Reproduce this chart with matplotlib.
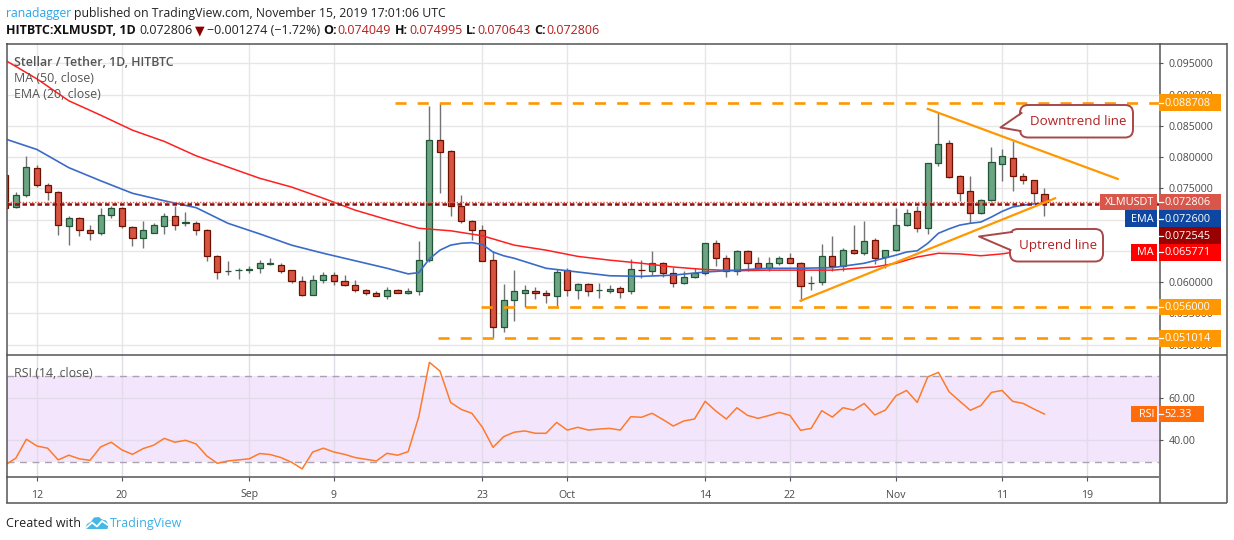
import matplotlib
matplotlib.use("Agg")
import matplotlib.pyplot as plt
from matplotlib.patches import FancyBboxPatch, Polygon, Rectangle
import numpy as np
import pandas as pd

W, H = 1234, 540
FAM = ['Open Sans', 'DejaVu Sans']

# --- data (XLM/USDT daily, HitBTC) ---
dates = pd.date_range('2019-08-09', '2019-11-15', freq='D')

opens = [0.0771, 0.0720, 0.0739, 0.0782, 0.0755, 0.0744, 0.0690, 0.0702, 0.0683, 0.0678,
         0.0708, 0.0718, 0.0688, 0.0670, 0.0679, 0.0690, 0.0705, 0.0695, 0.0695, 0.0683,
         0.0641, 0.0617, 0.0619, 0.0620, 0.0622, 0.0629, 0.0628, 0.0619, 0.0601, 0.0580,
         0.0604, 0.0611, 0.0602, 0.0595, 0.0588, 0.0583, 0.0578, 0.0588, 0.0583, 0.0586,
         0.0635, 0.0828, 0.0810, 0.0721, 0.0697, 0.0683, 0.0635, 0.0528, 0.0572, 0.0583,
         0.0586, 0.0583, 0.0578, 0.0619, 0.0588, 0.0597, 0.0587, 0.0586, 0.0591, 0.0585,
         0.0620, 0.0617, 0.0630, 0.0614, 0.0598, 0.0608, 0.0614, 0.0662, 0.0639, 0.0617,
         0.0650, 0.0630, 0.0623, 0.0631, 0.0639, 0.0631, 0.0598, 0.0600, 0.0642, 0.0626,
         0.0652, 0.0646, 0.0667, 0.0640, 0.0651, 0.0691, 0.0713, 0.0686, 0.0790, 0.0823,
         0.0770, 0.0745, 0.0710, 0.0731, 0.0789, 0.0799, 0.0770, 0.0763, 0.074049]
highs = [0.0776, 0.0744, 0.0802, 0.0787, 0.0758, 0.0746, 0.0706, 0.0704, 0.0691, 0.0718,
         0.0721, 0.0720, 0.0690, 0.0697, 0.0695, 0.0710, 0.0721, 0.0712, 0.0697, 0.0685,
         0.0643, 0.0633, 0.0623, 0.0625, 0.0635, 0.0638, 0.0630, 0.0620, 0.0610, 0.0611,
         0.0616, 0.0616, 0.0611, 0.0603, 0.0589, 0.0585, 0.0592, 0.0589, 0.0591, 0.0666,
         0.0882, 0.0887, 0.0811, 0.0739, 0.0700, 0.0691, 0.0649, 0.0597, 0.0619, 0.0595,
         0.0592, 0.0587, 0.0621, 0.0622, 0.0598, 0.0598, 0.0599, 0.0595, 0.0594, 0.0637,
         0.0635, 0.0650, 0.0632, 0.0624, 0.0618, 0.0623, 0.0663, 0.0667, 0.0644, 0.0651,
         0.0651, 0.0640, 0.0640, 0.0642, 0.0647, 0.0632, 0.0609, 0.0661, 0.0674, 0.0655,
         0.0692, 0.0698, 0.0670, 0.0652, 0.0719, 0.0717, 0.0721, 0.0791, 0.0871, 0.0828,
         0.0771, 0.0769, 0.0733, 0.0816, 0.0813, 0.0826, 0.0775, 0.0764, 0.074995]
lows = [0.0712, 0.0718, 0.0736, 0.0752, 0.0731, 0.0676, 0.0660, 0.0674, 0.0668, 0.0676,
        0.0703, 0.0687, 0.0657, 0.0655, 0.0678, 0.0677, 0.0683, 0.0690, 0.0676, 0.0634,
        0.0605, 0.0611, 0.0605, 0.0615, 0.0615, 0.0627, 0.0615, 0.0599, 0.0578, 0.0579,
        0.0598, 0.0595, 0.0594, 0.0584, 0.0579, 0.0577, 0.0573, 0.0582, 0.0581, 0.0579,
        0.0632, 0.0743, 0.0706, 0.0695, 0.0668, 0.0633, 0.0510, 0.0520, 0.0538, 0.0560,
        0.0573, 0.0566, 0.0562, 0.0578, 0.0573, 0.0578, 0.0575, 0.0583, 0.0574, 0.0581,
        0.0607, 0.0611, 0.0608, 0.0592, 0.0597, 0.0607, 0.0611, 0.0625, 0.0608, 0.0611,
        0.0618, 0.0619, 0.0617, 0.0627, 0.0630, 0.0569, 0.0587, 0.0595, 0.0617, 0.0618,
        0.0645, 0.0644, 0.0629, 0.0622, 0.0649, 0.0690, 0.0680, 0.0677, 0.0786, 0.0767,
        0.0729, 0.0695, 0.0709, 0.0730, 0.0762, 0.0746, 0.0757, 0.0727, 0.070643]
closes = [0.0718, 0.0739, 0.0784, 0.0755, 0.0744, 0.0692, 0.0702, 0.0683, 0.0678, 0.0707,
          0.0718, 0.0689, 0.0670, 0.0683, 0.0691, 0.0705, 0.0692, 0.0696, 0.0684, 0.0641,
          0.0616, 0.0618, 0.0620, 0.0621, 0.0630, 0.0630, 0.0617, 0.0601, 0.0580, 0.0604,
          0.0611, 0.0601, 0.0595, 0.0587, 0.0583, 0.0578, 0.0588, 0.0583, 0.0586, 0.0636,
          0.0828, 0.0808, 0.0721, 0.0697, 0.0684, 0.0634, 0.0528, 0.0571, 0.0585, 0.0587,
          0.0583, 0.0580, 0.0616, 0.0588, 0.0597, 0.0586, 0.0588, 0.0589, 0.0584, 0.0621,
          0.0619, 0.0630, 0.0614, 0.0598, 0.0608, 0.0614, 0.0662, 0.0639, 0.0617, 0.0650,
          0.0630, 0.0623, 0.0631, 0.0639, 0.0631, 0.0594, 0.0599, 0.0642, 0.0626, 0.0652,
          0.0646, 0.0665, 0.0639, 0.0651, 0.0691, 0.0711, 0.0686, 0.0790, 0.0821, 0.0768,
          0.0743, 0.0711, 0.0731, 0.0792, 0.0801, 0.0770, 0.0763, 0.0742, 0.072806]

# EMA(20) and MA(50) read at these day numbers (0 = Aug 9)
ema_days = [0, 3, 6, 9, 12, 15, 18, 21, 24, 27, 30, 33, 36, 38, 39, 40, 41, 42, 43, 44,
            45, 46, 47, 48, 51, 54, 57, 60, 63, 66, 69, 72, 75, 78, 81, 84, 85, 86, 87, 88,
            89, 90, 91, 92, 93, 94, 95, 96, 97, 98]
ema_vals = [0.0829, 0.0812, 0.0783, 0.0762, 0.0742, 0.0730, 0.0719, 0.0694, 0.0677, 0.0659,
            0.0646, 0.0634, 0.0622, 0.0613, 0.0615, 0.0637, 0.0651, 0.0659, 0.0662, 0.0663,
            0.0660, 0.0648, 0.0642, 0.0638, 0.0622, 0.0616, 0.0610, 0.0609, 0.0611, 0.0616,
            0.0619, 0.0622, 0.0622, 0.0623, 0.0630, 0.0643, 0.0648, 0.0650, 0.0662, 0.0678,
            0.0685, 0.0691, 0.0694, 0.0696, 0.0704, 0.0713, 0.0720, 0.0723, 0.0725, 0.0726]
ma_days = [0, 3, 6, 9, 12, 15, 18, 21, 24, 27, 30, 33, 36, 39, 42, 45, 48, 51, 54, 57,
           60, 63, 66, 69, 72, 75, 78, 81, 82, 84, 86, 88, 90, 92, 94, 96, 98]
ma_vals = [0.0955, 0.0925, 0.0890, 0.0867, 0.0843, 0.0825, 0.0802, 0.0784, 0.0766, 0.0752,
           0.0734, 0.0715, 0.0700, 0.0686, 0.0682, 0.0674, 0.0659, 0.0651, 0.0641, 0.0635,
           0.0630, 0.0624, 0.0620, 0.0618, 0.0619, 0.0619, 0.0619, 0.0623, 0.0624, 0.0630,
           0.0640, 0.0646, 0.0645, 0.0642, 0.0645, 0.0650, 0.065771]

rsi = [28.4, 31.6, 40.5, 37.3, 36.3, 30.8, 33.0, 31.3, 30.6, 36.9,
       39.1, 35.5, 33.4, 36.1, 37.7, 40.9, 39.1, 40.0, 38.3, 32.7,
       29.2, 30.3, 30.8, 31.3, 33.8, 33.3, 31.9, 29.7, 26.6, 34.5,
       36.3, 34.5, 33.4, 31.9, 31.1, 30.3, 33.9, 33.0, 34.7, 51.1,
       76.6, 72.5, 57.8, 54.5, 52.7, 46.1, 36.7, 41.7, 43.8, 44.4,
       43.3, 43.3, 48.4, 44.8, 46.1, 44.8, 45.3, 45.6, 44.8, 51.1,
       50.8, 52.7, 49.8, 46.7, 49.1, 50.0, 58.3, 53.8, 50.0, 55.3,
       51.7, 50.3, 51.6, 53.1, 51.7, 44.7, 45.6, 53.9, 50.9, 55.3,
       54.2, 57.3, 51.9, 54.2, 60.9, 63.4, 57.8, 69.8, 71.9, 62.8,
       58.4, 54.1, 56.3, 62.5, 63.4, 58.3, 57.3, 54.7, 52.33]

# horizontal levels drawn by the author and where they begin (day number)
levels = [0.088708, 0.056000, 0.051014]
level_start = [36.8, 44.9, 40.8]
last_close = 0.072806
hline_545 = 0.072545
ema_last, ma_last, rsi_last = 0.072600, 0.065771, 52.33

# trend lines (day number, price)
down_days, down_prices = [87.0, 104.9], [0.0877, 0.0765]
up_days, up_prices = [75.0, 99.0], [0.0570, 0.0734]

price_ticks = [0.050, 0.055, 0.060, 0.075, 0.080, 0.085, 0.090, 0.095]
tick_dates = ['2019-08-12', '2019-08-20', '2019-09-01', '2019-09-09', '2019-09-23',
              '2019-10-01', '2019-10-14', '2019-10-22', '2019-11-01', '2019-11-11', '2019-11-19']
tick_labels = ['12', '20', 'Sep', '9', '23', 'Oct', '14', '22', 'Nov', '11', '19']

# --- figure ---
fig = plt.figure(figsize=(W / 100, H / 100), dpi=100)
fig.patch.set_facecolor('white')


def box(l, t, r, b):
    return [l / W, 1 - b / H, (r - l) / W, (b - t) / H]


ax = fig.add_axes(box(7, 43, 1159, 355))
rx = fig.add_axes(box(7, 355, 1159, 477))
ov = fig.add_axes([0, 0, 1, 1], zorder=10)
ov.set_xlim(0, W)
ov.set_ylim(H, 0)
ov.axis('off')
ov.patch.set_alpha(0)

x = np.arange(len(dates))
o, hi, lo, c = map(np.array, (opens, highs, lows, closes))
up = c >= o
xlim = (0.17, 108.8)
tick_pos = [(pd.Timestamp(d) - dates[0]).days for d in tick_dates]

for a in (ax, rx):
    a.set_xlim(*xlim)
    a.set_xticks(tick_pos)
    a.grid(True, color='#e6e6e6', lw=1)
    a.set_axisbelow(True)
    for s in a.spines.values():
        s.set_visible(False)
    a.yaxis.tick_right()
    a.tick_params(axis='y', length=3, width=0.8, color='#555555', labelcolor='#4a4a4a',
                  labelsize=7.6, pad=4)

# grid at every 0.005 even where the label is hidden behind a tag
ax.set_yticks(np.arange(0.050, 0.0951, 0.005), minor=True)
ax.grid(True, which='minor', axis='y', color='#e6e6e6', lw=1)
ax.tick_params(axis='y', which='minor', length=3, width=0.8, color='#555555')

# candles
ax.vlines(x, lo, hi, color='#737375', lw=1, zorder=2)
body_b = np.minimum(o, c)
body_h = np.maximum(np.abs(c - o), 0.00004)
ax.bar(x[up], body_h[up], bottom=body_b[up], width=0.58, color='#6ba583',
       edgecolor='#225437', lw=0.9, zorder=3)
ax.bar(x[~up], body_h[~up], bottom=body_b[~up], width=0.58, color='#d75442',
       edgecolor='#6b1100', lw=0.9, zorder=3)

ax.plot(ma_days, ma_vals, color='#ff1f1f', lw=1.1, zorder=4)
ax.plot(ema_days, ema_vals, color='#3a6bc8', lw=1.2, zorder=4)

ax.axhline(last_close, color='#e06050', lw=1, ls=(0, (1, 1.2)), zorder=4)
ax.axhline(hline_545, color='#8b1010', lw=1.8, ls=(0, (1.8, 1.2)), zorder=4)
for lv, st in zip(levels, level_start):
    ax.hlines(lv, st, xlim[1], color='#ff9800', lw=1.9, linestyles=[(0, (4.2, 4.2))], zorder=5)
ax.plot(down_days, down_prices, color='#ff9800', lw=1.6, zorder=5)
ax.plot(up_days, up_prices, color='#ff9800', lw=1.6, zorder=5)

ax.set_ylim(0.04832, 0.09825)
ax.set_yticks(price_ticks)
ax.yaxis.set_major_formatter(plt.FormatStrFormatter('%.6f'))
ax.tick_params(axis='x', length=0, labelbottom=False)

# RSI pane
rx.axhspan(30, 70, color='#f3e6fc', lw=0, zorder=0.2)
rx.grid(True, color='#e2dbe9', lw=1)
rx.axhline(70, color='#a9a3b0', lw=1, ls=(0, (5, 4)), zorder=1)
rx.axhline(30, color='#a9a3b0', lw=1, ls=(0, (5, 4)), zorder=1)
rx.plot(x, rsi, color='#ff7a2a', lw=1.1, zorder=3)
rx.set_ylim(22.77, 80.05)
rx.set_yticks([40, 60])
rx.yaxis.set_major_formatter(plt.FormatStrFormatter('%.2f'))
rx.set_xticklabels(tick_labels)
rx.tick_params(axis='x', length=3, width=0.8, color='#555555', labelcolor='#4a4a4a',
               labelsize=7.6, pad=6)
for t in rx.get_xticklabels() + rx.get_yticklabels() + ax.get_yticklabels():
    t.set_family(FAM)

# frame lines
frame = [((6, 43.5), (1227, 43.5)), ((6.5, 43), (6.5, 503)), ((6, 355), (1227, 355)),
         ((6, 477), (1159, 477)), ((6, 503), (1227, 503)), ((1159.5, 43), (1159.5, 503)),
         ((1227, 43), (1227, 503))]
for (x0, y0), (x1, y1) in frame:
    ov.plot([x0, x1], [y0, y1], color='#555555', lw=1.1, solid_capstyle='butt')

rend = fig.canvas.get_renderer()


def runs(x0, y0, parts, size):
    for txt, col, wt, gap in parts:
        t = ov.text(x0, y0, txt, color=col, fontsize=size, fontweight=wt, family=FAM,
                    va='baseline', ha='left')
        x0 += t.get_window_extent(renderer=rend).width + gap
    return x0


runs(6, 17, [('ranadagger', '#2fa4e7', 'normal', 3.2),
             ('published on TradingView.com, November 15, 2019 17:01:06 UTC', '#222222', 'normal', 0)], 8.8)
red = '#b71c1c'
runs(6, 34, [('HITBTC:XLMUSDT, 1D', '#111111', 'bold', 4),
             ('0.072806', '#222222', 'normal', 2),
             ('\u25bc', '#8b0000', 'normal', 2),
             ('\u22120.001274 (\u22121.72%)', '#222222', 'normal', 4),
             ('O:', '#111111', 'bold', 0.5), ('0.074049', red, 'normal', 4),
             ('H:', '#111111', 'bold', 0.5), ('0.074995', red, 'normal', 4),
             ('L:', '#111111', 'bold', 0.5), ('0.070643', red, 'normal', 4),
             ('C:', '#111111', 'bold', 0.5), ('0.072806', red, 'normal', 0)], 9.0)

for txt, yy, wt in [('Stellar / Tether, 1D, HITBTC', 65.5, 'semibold'),
                    ('MA (50, close)', 82, 'normal'), ('EMA (20, close)', 98.5, 'normal')]:
    ov.text(14, yy, txt, color='#555555', fontsize=8.9, fontweight=wt, family=FAM, va='baseline')
ov.text(14, 377, 'RSI (14, close)', color='#555555', fontsize=8.9, family=FAM, va='baseline')


def price_px(a, v):
    return ov.transData.inverted().transform(a.transData.transform((0, v)))[1]


def value_tag(yc, txt, col, x0=1159, x1=1221):
    ov.add_patch(Rectangle((x0, yc - 8.3), x1 - x0, 16.7, color=col, lw=0, zorder=6))
    ov.plot([x0, x0 + 3.5], [yc, yc], color='white', lw=0.9, zorder=7)
    ov.text(x0 + 5.5, yc + 0.5, txt, color='white', fontsize=7.8, family=FAM,
            va='center', ha='left', zorder=7)


def name_tag(yc, txt, col, x0):
    ov.add_patch(Rectangle((x0, yc - 8.3), 1157 - x0, 16.7, color=col, lw=0, zorder=6))
    ov.text(1154, yc + 0.5, txt, color='white', fontsize=7.8, family=FAM,
            va='center', ha='right', zorder=7)


orange = '#ff9800'
for lv in levels:
    value_tag(price_px(ax, lv), '%.6f' % lv, orange)

y_last = price_px(ax, last_close)
stack = [('XLMUSDT', '%.6f' % last_close, '#d9574a', 1100),
         ('EMA', '%.6f' % ema_last, '#0d47a1', 1125),
         (None, '%.6f' % hline_545, '#990000', None),
         ('MA', '%.6f' % ma_last, '#ff0000', 1131)]
for k, (nm, val, col, nx) in enumerate(stack):
    yc = y_last + k * 16.8
    value_tag(yc, val, col)
    if nm:
        name_tag(yc, nm, col, nx)

y_rsi = price_px(rx, rsi_last)
value_tag(y_rsi, '%.2f' % rsi_last, '#ff6d0a', x1=1203.5)
name_tag(y_rsi, 'RSI', '#ff6d0a', 1131)


# callouts
def callout(l, t, r, b, tip, base, text):
    ec = '#a84848'
    ov.add_patch(FancyBboxPatch((l, t), r - l, b - t, boxstyle='round,pad=0,rounding_size=8',
                                fc='white', ec=ec, lw=1.4, zorder=8))
    (bx0, by0), (bx1, by1) = base
    ov.add_patch(Polygon([(bx0 + 2, by0), tip, (bx1 + 2, by1)], closed=True, fc='white',
                         ec='none', zorder=8.5))
    ov.plot([bx0, tip[0], bx1], [by0, tip[1], by1], color=ec, lw=1.4, zorder=9)
    ov.text((l + r) / 2 + 2, (t + b) / 2, text, color='#b22222', fontsize=9.6, family=FAM,
            ha='center', va='center', zorder=9)


callout(1020, 105, 1133, 137.5, (1000.5, 127.5), [(1021.5, 113), (1020.5, 131)], 'Downtrend line')
callout(1010, 229, 1103, 261.5, (979, 236.5), [(1012, 232), (1010.5, 250)], 'Uptrend line')

# footer
xe = runs(6, 527, [('Created with', '#222222', 'normal', 4)], 9.0)
logo = [(xe, 529), (xe + 2, 524), (xe + 6, 521.5), (xe + 9, 517.5), (xe + 14, 517),
        (xe + 17, 519.5), (xe + 21, 520.5), (xe + 23.5, 524.5), (xe + 22.5, 529)]
ov.add_patch(Polygon(logo, closed=True, fc='#47b8e6', ec='none'))
ov.plot([xe + 1, xe + 7, xe + 12, xe + 17, xe + 23], [528, 522.5, 526.5, 521, 525],
        color='white', lw=1.3)
ov.text(xe + 25, 527, 'TradingView', color='#3bb0e3', fontsize=9.0, family=FAM, va='baseline')

fig.savefig('out.png', dpi=100, facecolor='white')
